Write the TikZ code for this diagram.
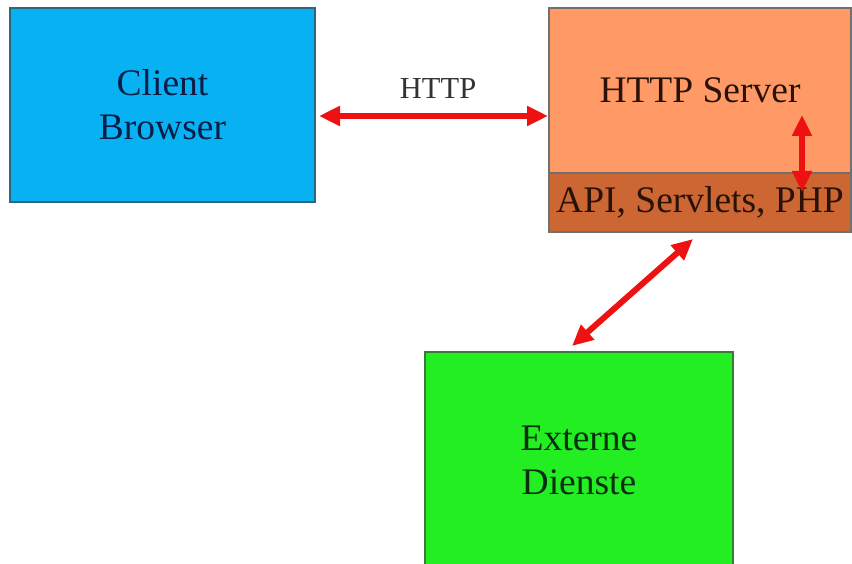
\documentclass[tikz,border=0pt]{standalone}
\usepackage{fontspec}
\setmainfont{Liberation Serif}
\usetikzlibrary{arrows.meta}
\definecolor{cbfill}{HTML}{08B2F2}
\definecolor{cbdraw}{HTML}{2E6680}
\definecolor{cbtext}{HTML}{0A1E48}
\definecolor{svfill}{HTML}{FF9A66}
\definecolor{svdraw}{HTML}{707070}
\definecolor{svtext}{HTML}{2A1208}
\definecolor{apifill}{HTML}{CC6633}
\definecolor{exfill}{HTML}{22EE22}
\definecolor{exdraw}{HTML}{3A7A3A}
\definecolor{extext}{HTML}{0A2E10}
\definecolor{arrred}{HTML}{EE1111}
\tikzset{
  box/.style={rectangle, line width=2pt, inner sep=0pt, align=center,
    font=\fontsize{37.5}{44}\selectfont},
  conn/.style={arrred, line width=6pt,
    {Triangle[width=19pt,length=21pt]}-{Triangle[width=19pt,length=21pt]}},
  lbl/.style={inner sep=0pt, font=\fontsize{30.5}{34}\selectfont, text=black!80}
}
\begin{document}
\begin{tikzpicture}[x=1pt,y=-1pt]
\useasboundingbox (0,0) rectangle (852,564);
\node[box, fill=cbfill, draw=cbdraw, text=cbtext, minimum width=305pt, minimum height=194pt]
  (client) at (162.5,105) {Client\\Browser};
\node[box, fill=svfill, draw=svdraw, text=svtext, minimum width=302pt, minimum height=165pt]
  (server) at (700,90.5) {HTTP Server};
\node[box, fill=apifill, draw=svdraw, text=svtext, minimum width=302pt, minimum height=59pt]
  (api) at (700,202.5) {\raisebox{-4pt}{API, Servlets, PHP}};
\node[box, fill=exfill, draw=exdraw, text=extext, minimum width=308pt, minimum height=216pt]
  (ext) at (579,460) {Externe\\Dienste};
\draw[conn] ([xshift=3pt,yshift=-11pt]client.east) -- ([yshift=-25.5pt]server.west)
  node[lbl, pos=0.52, above=14pt] (http) {HTTP};
\draw[conn] ([xshift=102pt,yshift=-24.5pt]server.center) -- ([xshift=102pt,yshift=10.5pt]api.center);
\draw[conn] ([xshift=-7pt,yshift=-6pt]api.south) -- ([xshift=-7pt,yshift=5pt]ext.north);
\end{tikzpicture}
\end{document}
